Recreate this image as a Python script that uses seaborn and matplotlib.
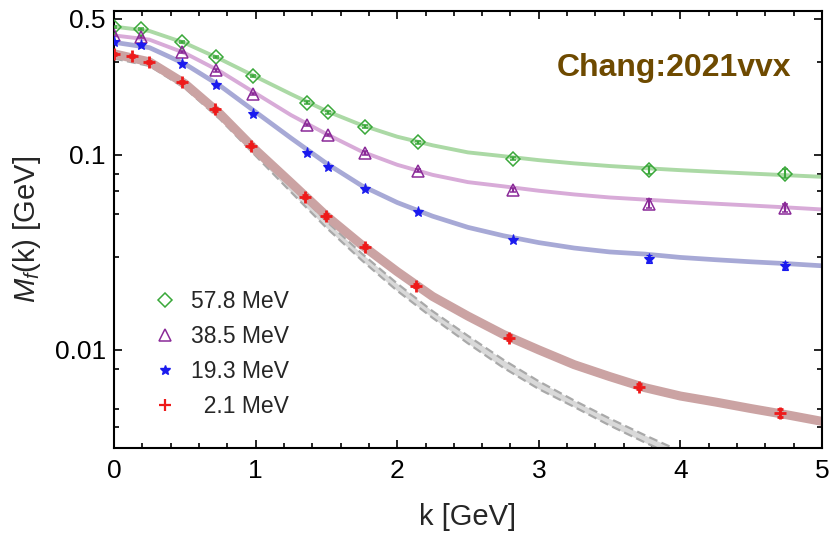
import numpy as np
import pandas as pd
import matplotlib
matplotlib.use("Agg")
import matplotlib.pyplot as plt
import seaborn as sns
from matplotlib.lines import Line2D
from matplotlib.ticker import FixedLocator, NullFormatter, FixedFormatter

# ---------------- data ----------------
k_pts = [0.0, 0.19, 0.48, 0.72, 0.98, 1.36, 1.51, 1.77, 2.15, 2.82, 3.78, 4.74]
m_green = [0.452, 0.441, 0.378, 0.317, 0.254, 0.185, 0.1655, 0.1396, 0.116, 0.0957, 0.0838, 0.080]
e_green = [0.005, 0.005, 0.004, 0.004, 0.003, 0.003, 0.003, 0.002, 0.002, 0.002, 0.0042, 0.0042]
m_purple = [0.412, 0.401, 0.336, 0.271, 0.2055, 0.1426, 0.1267, 0.1024, 0.0830, 0.0662, 0.0563, 0.0533]
e_purple = [0.005, 0.005, 0.004, 0.004, 0.003, 0.002, 0.002, 0.002, 0.0015, 0.0015, 0.0028, 0.0026]
m_blue = [0.378, 0.366, 0.294, 0.2276, 0.162, 0.102, 0.0871, 0.067, 0.0508, 0.0367, 0.0293, 0.0270]
e_blue = [0.004, 0.004, 0.003, 0.003, 0.002, 0.0015, 0.001, 0.001, 0.0007, 0.0006, 0.0015, 0.0012]
k_red = [0.0, 0.13, 0.25, 0.48, 0.71, 0.97, 1.35, 1.50, 1.77, 2.13, 2.79, 3.71, 4.70]
m_red = [0.330, 0.323, 0.2985, 0.2375, 0.1715, 0.1116, 0.0611, 0.0487, 0.0338, 0.0213, 0.01156, 0.00648, 0.00475]
e_red = [0.004, 0.004, 0.004, 0.003, 0.003, 0.002, 0.001, 0.001, 0.0006, 0.0004, 0.0003, 0.0002, 0.0002]

k_fit = [0.0, 0.25, 0.5, 0.75, 1.0, 1.25, 1.5, 1.75, 2.0, 2.25, 2.5,
         2.75, 3.0, 3.25, 3.5, 3.75, 4.0, 4.25, 4.5, 4.75, 5.0]
fit_green = [0.455, 0.432, 0.375, 0.31, 0.252, 0.205, 0.168, 0.142, 0.124, 0.112, 0.103,
             0.0985, 0.094, 0.0905, 0.0877, 0.0855, 0.0835, 0.0818, 0.0802, 0.0787, 0.0772]
fit_purple = [0.41, 0.39, 0.333, 0.268, 0.207, 0.160, 0.128, 0.104, 0.089, 0.079, 0.0725,
              0.069, 0.0655, 0.0627, 0.0605, 0.059, 0.0575, 0.0562, 0.055, 0.0538, 0.0525]
fit_blue = [0.378, 0.355, 0.293, 0.226, 0.166, 0.122, 0.0905, 0.0695, 0.057, 0.0485, 0.0425,
            0.0385, 0.0355, 0.0333, 0.0318, 0.031, 0.0298, 0.029, 0.0283, 0.0277, 0.027]
fit_red = [0.330, 0.30, 0.232, 0.162, 0.106, 0.072, 0.0487, 0.0345, 0.0252, 0.0188, 0.0149,
           0.0120, 0.0100, 0.0084, 0.0073, 0.0064, 0.0058, 0.0054, 0.0050, 0.00465, 0.0043]

k_chiral = [0.0, 0.25, 0.5, 0.75, 1.0, 1.25, 1.5, 1.75, 2.0, 2.25, 2.5,
            2.75, 3.0, 3.25, 3.5, 3.75, 4.0]
chiral_hi = [0.333, 0.305, 0.236, 0.164, 0.107, 0.0695, 0.0457, 0.0312, 0.0219, 0.0158, 0.0118,
             0.0089, 0.0069, 0.0055, 0.00445, 0.00365, 0.00302]
chiral_lo = [0.312, 0.286, 0.220, 0.152, 0.099, 0.0645, 0.0423, 0.0288, 0.0201, 0.0146, 0.0108,
             0.0081, 0.0063, 0.0051, 0.00410, 0.00335, 0.00278]

labels = ["57.8 MeV", "38.5 MeV", "19.3 MeV", "  2.1 MeV"]
x_ticks = [0, 1, 2, 3, 4, 5]
y_ticks = [0.01, 0.1, 0.5]
y_tick_labels = ["0.01", "0.1", "0.5"]
y_minor = [0.004, 0.005, 0.008, 0.03, 0.05, 0.065, 0.08, 0.3]

# ---------------- style ----------------
sns.set_style("ticks")
plt.rcParams["font.family"] = ["Liberation Sans", "DejaVu Sans"]
plt.rcParams["mathtext.fontset"] = "custom"
plt.rcParams["mathtext.rm"] = "Liberation Sans"
plt.rcParams["mathtext.it"] = "Liberation Sans:italic"

fig = plt.figure(figsize=(8.31, 5.34), dpi=100)
ax = fig.add_axes([114 / 831, 1 - 448 / 534, (822 - 114) / 831, (448 - 11) / 534])

col_green_l, col_purple_l, col_blue_l, col_red_l = "#abd9a5", "#d8abd8", "#a7a9d6", "#cba3a3"
col_green, col_purple, col_blue, col_red = "#3aa83a", "#8a2a98", "#1a1aee", "#ee1a1a"

# chiral limit band
ax.fill_between(k_chiral, chiral_lo, chiral_hi, color="#d9d9d9", lw=0, zorder=1)
ax.plot(k_chiral, chiral_hi, color="#a9a9a9", lw=1.6, ls=(0, (4, 2)), zorder=1.5)
ax.plot(k_chiral, chiral_lo, color="#a9a9a9", lw=1.6, ls=(0, (4, 2)), zorder=1.5)

fits = pd.DataFrame({
    "k": k_fit * 4,
    "M": fit_green + fit_purple + fit_blue + fit_red,
    "s": ["g"] * 21 + ["p"] * 21 + ["b"] * 21 + ["r"] * 21,
})
sns.lineplot(data=fits[fits.s == "r"], x="k", y="M", color=col_red_l, lw=6.5, ax=ax, zorder=2)
sns.lineplot(data=fits[fits.s == "b"], x="k", y="M", color=col_blue_l, lw=3.4, ax=ax, zorder=2)
sns.lineplot(data=fits[fits.s == "p"], x="k", y="M", color=col_purple_l, lw=2.8, ax=ax, zorder=2)
sns.lineplot(data=fits[fits.s == "g"], x="k", y="M", color=col_green_l, lw=2.8, ax=ax, zorder=2)

# data points
ax.errorbar(k_pts, m_green, yerr=e_green, fmt="D", ms=7.5, mfc="none", mec=col_green, mew=1.1,
            ecolor=col_green, elinewidth=1.5, capsize=2, zorder=4)
ax.errorbar(k_pts, m_purple, yerr=e_purple, fmt="^", ms=9, mfc="none", mec=col_purple, mew=1.1,
            ecolor=col_purple, elinewidth=1.5, capsize=2, zorder=4)
ax.errorbar(k_pts, m_blue, yerr=e_blue, fmt="*", ms=8, mfc=col_blue, mec=col_blue, mew=0.8,
            ecolor=col_blue, elinewidth=1.5, capsize=2, zorder=4)
ax.errorbar(k_red, m_red, yerr=e_red, fmt="+", ms=9, mec=col_red, mew=2.0,
            ecolor=col_red, elinewidth=1.5, capsize=2, zorder=4)

ax.set_yscale("log")
ax.set_xlim(0, 5)
ax.set_ylim(0.00314, 0.547)

ax.xaxis.set_major_locator(FixedLocator(x_ticks))
ax.xaxis.set_minor_locator(FixedLocator(np.arange(0, 5.01, 0.2)))
ax.yaxis.set_major_locator(FixedLocator(y_ticks))
ax.yaxis.set_major_formatter(FixedFormatter(y_tick_labels))
ax.yaxis.set_minor_locator(FixedLocator(y_minor))
ax.yaxis.set_minor_formatter(NullFormatter())

ax.tick_params(which="both", direction="in", top=True, right=True, width=1.2, colors="black")
ax.tick_params(which="major", length=6, labelsize=19)
ax.tick_params(which="minor", length=3.5)
ax.tick_params(axis="y", which="major", pad=6)
ax.tick_params(axis="x", which="major", pad=8)
for sp in ax.spines.values():
    sp.set_linewidth(1.5)
    sp.set_color("black")

ax.set_xlabel("k [GeV]", fontsize=21, labelpad=14)
ax.set_ylabel(r"$M_f$(k) [GeV]", fontsize=21, labelpad=8)

handles = [
    Line2D([], [], ls="none", marker="D", ms=7, mfc="none", mec=col_green, mew=1.1),
    Line2D([], [], ls="none", marker="^", ms=8.5, mfc="none", mec=col_purple, mew=1.1),
    Line2D([], [], ls="none", marker="*", ms=7, mfc=col_blue, mec=col_blue),
    Line2D([], [], ls="none", marker="+", ms=8, mec=col_red, mew=1.6),
]
ax.legend(handles, labels, loc="upper left", bbox_to_anchor=(0.056, 0.362), frameon=False,
          fontsize=16.5, handlelength=1.0, handletextpad=0.65, labelspacing=0.53,
          borderpad=0, borderaxespad=0)

ax.text(0.626, 0.870, "Chang:2021vvx", transform=ax.transAxes, fontsize=23,
        fontweight="bold", color="#6e4a00", ha="left", va="center")

fig.savefig("out.png", dpi=100)
